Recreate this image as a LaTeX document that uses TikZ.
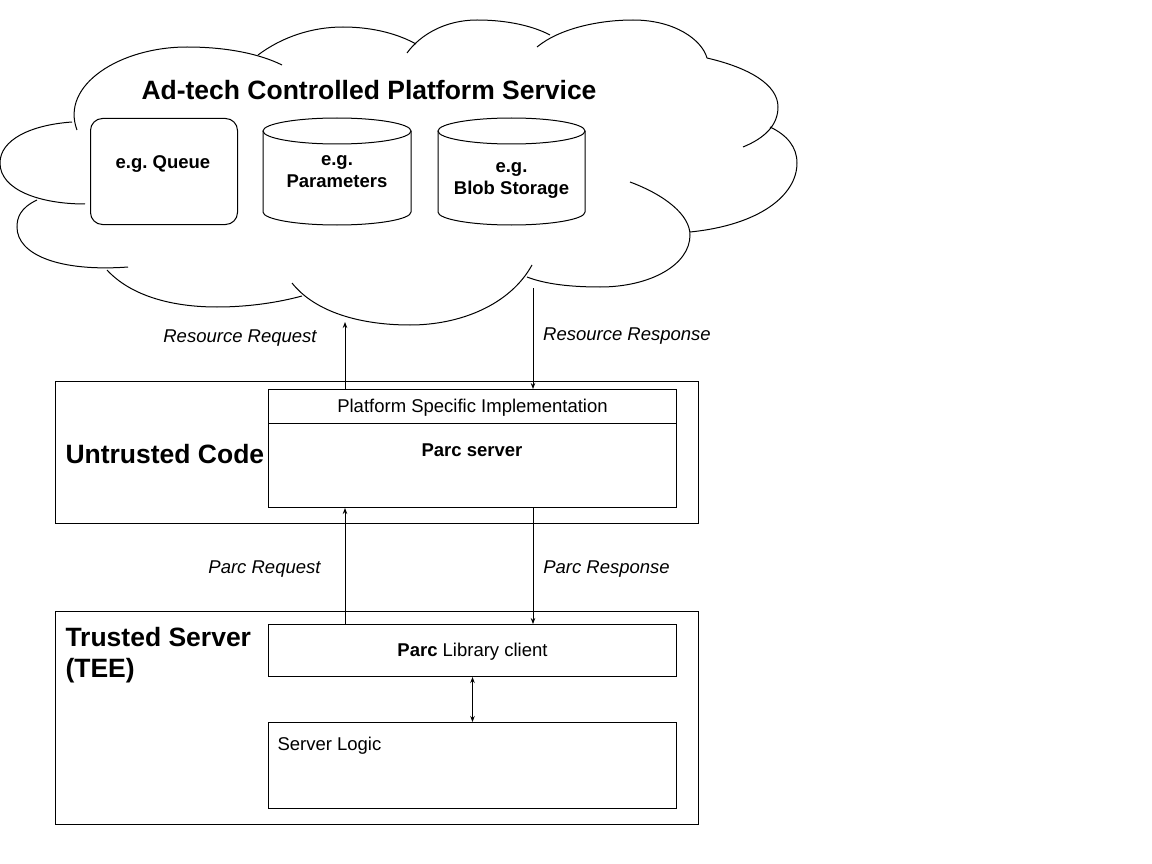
\documentclass[tikz,border=0pt]{standalone}
\usepackage{fontspec}
\setmainfont{Liberation Sans}
\usetikzlibrary{arrows.meta}
\frenchspacing

\begin{document}
\begin{tikzpicture}[x=1pt, y=1pt, line width=1pt,
    box/.style={draw, inner sep=0pt, anchor=north west},
    txt/.style={font=\fontsize{18.5}{22}\selectfont, align=center, inner sep=0pt},
    head/.style={font=\fontsize{26.5}{31}\selectfont\bfseries, align=left, inner sep=0pt},
    lbl/.style={font=\fontsize{18.5}{22}\selectfont\itshape, inner sep=0pt},
    arr/.style={-{Stealth[length=6pt, width=4.5pt]}, line width=0.8pt}]

    \useasboundingbox (0,0) rectangle (1152,-864);

    % Cloud - drawn lobe by lobe
    \draw (77,-130) .. controls (60,-85) and (120,-47) .. (187,-47) .. controls (230,-47) and (262,-55) .. (282,-65);
    \draw (258,-55) .. controls (282,-37) and (312,-27) .. (343,-27) .. controls (375,-27) and (400,-35) .. (416,-44);
    \draw (407,-53) .. controls (420,-35) and (445,-20) .. (477,-20) .. controls (510,-20) and (535,-27) .. (550,-35);
    \draw (537,-47) .. controls (560,-28) and (600,-20) .. (633,-20) .. controls (675,-20) and (702,-40) .. (707,-58);
    \draw (707,-58) .. controls (750,-68) and (778,-85) .. (778,-107) .. controls (778,-125) and (765,-138) .. (743,-147);
    \draw (690,-232) .. controls (760,-225) and (797,-195) .. (797,-163) .. controls (797,-147) and (787,-135) .. (770,-127);
    \draw (630,-182) .. controls (665,-195) and (690,-215) .. (690,-235) .. controls (690,-265) and (650,-287) .. (600,-287) .. controls (570,-287) and (545,-284) .. (527,-277);
    \draw (292,-283) .. controls (315,-312) and (360,-325) .. (410,-325) .. controls (460,-325) and (510,-305) .. (532,-265);
    \draw (107,-270) .. controls (130,-295) and (170,-307) .. (217,-307) .. controls (250,-307) and (280,-302) .. (302,-296);
    \draw (37,-200) .. controls (20,-208) and (17,-218) .. (17,-227) .. controls (17,-255) and (60,-272) .. (128,-267);
    \draw (72,-122) .. controls (30,-125) and (0,-140) .. (0,-163) .. controls (0,-190) and (40,-204) .. (85,-204);

    % Title and stores inside the cloud
    \node[head] (title) at (369,-90) {Ad-tech Controlled Platform Service};
    \node[box, rounded corners=12pt, minimum width=147pt, minimum height=106pt] (queue) at (90,-118) {};
    \node[txt, font=\fontsize{18.5}{22}\selectfont\bfseries] (queuetxt) at (163,-164) {e.g. Queue};

    \draw (263,-131) -- (263,-212) arc[start angle=180, end angle=360, x radius=74, y radius=13] -- (411,-131);
    \draw (337,-131) ellipse [x radius=74, y radius=13];
    \node[txt, font=\fontsize{18.5}{22}\selectfont\bfseries] (params) at (337,-172) {e.g.\\Parameters};

    \draw (438,-131) -- (438,-212) arc[start angle=180, end angle=360, x radius=73.5, y radius=13] -- (585,-131);
    \draw (511.5,-131) ellipse [x radius=73.5, y radius=13];
    \node[txt, font=\fontsize{18.5}{22}\selectfont\bfseries] (blob) at (511.5,-180) {e.g.\\Blob Storage};

    % Untrusted side
    \node[box, minimum width=643pt, minimum height=142pt] (untrusted) at (55,-381) {};
    \node[head, anchor=west] (untrustedtxt) at (65,-454) {Untrusted Code};
    \node[box, txt, minimum width=408pt, minimum height=34pt, text depth=2pt] (psi) at (268,-389) {Platform Specific Implementation};
    \node[box, minimum width=408pt, minimum height=84pt] (server) at (268,-423) {};
    \node[txt, font=\fontsize{18.5}{22}\selectfont\bfseries] (servertxt) at (472,-450) {Parc server};

    % Trusted side
    \node[box, minimum width=643pt, minimum height=213pt] (trusted) at (55,-611) {};
    \node[head, anchor=north west] (trustedtxt) at (65,-627) {Trusted Server\\(TEE)};
    \node[box, txt, minimum width=408pt, minimum height=52pt, text depth=2pt] (client) at (268,-624) {\textbf{Parc} Library client};
    \node[box, minimum width=408pt, minimum height=86pt] (logic) at (268,-722) {};
    \node[txt, anchor=north west] (logictxt) at (277,-737) {Server Logic};

    % Requests and responses
    \coordinate (cloudin) at (345,-322);
    \coordinate (cloudout) at (533,-288);
    \draw[arr] (psi.north -| cloudin) -- (cloudin);
    \draw[arr] (cloudout) -- (cloudout |- psi.north);
    \draw[arr] (client.north -| cloudin) -- (server.south -| cloudin);
    \draw[arr] (server.south -| cloudout) -- (client.north -| cloudout);
    \draw[arr, {Stealth[length=6pt, width=4.5pt]}-{Stealth[length=6pt, width=4.5pt]}] (client.south) -- (logic.north);

    \node[lbl] (reslbl) at (240,-338) {Resource Request};
    \node[lbl] (resplbl) at (627,-336) {Resource Response};
    \node[lbl] (reqlbl) at (264.5,-569) {Parc Request};
    \node[lbl] (parcresplbl) at (606.5,-569) {Parc Response};

\end{tikzpicture}
\end{document}
